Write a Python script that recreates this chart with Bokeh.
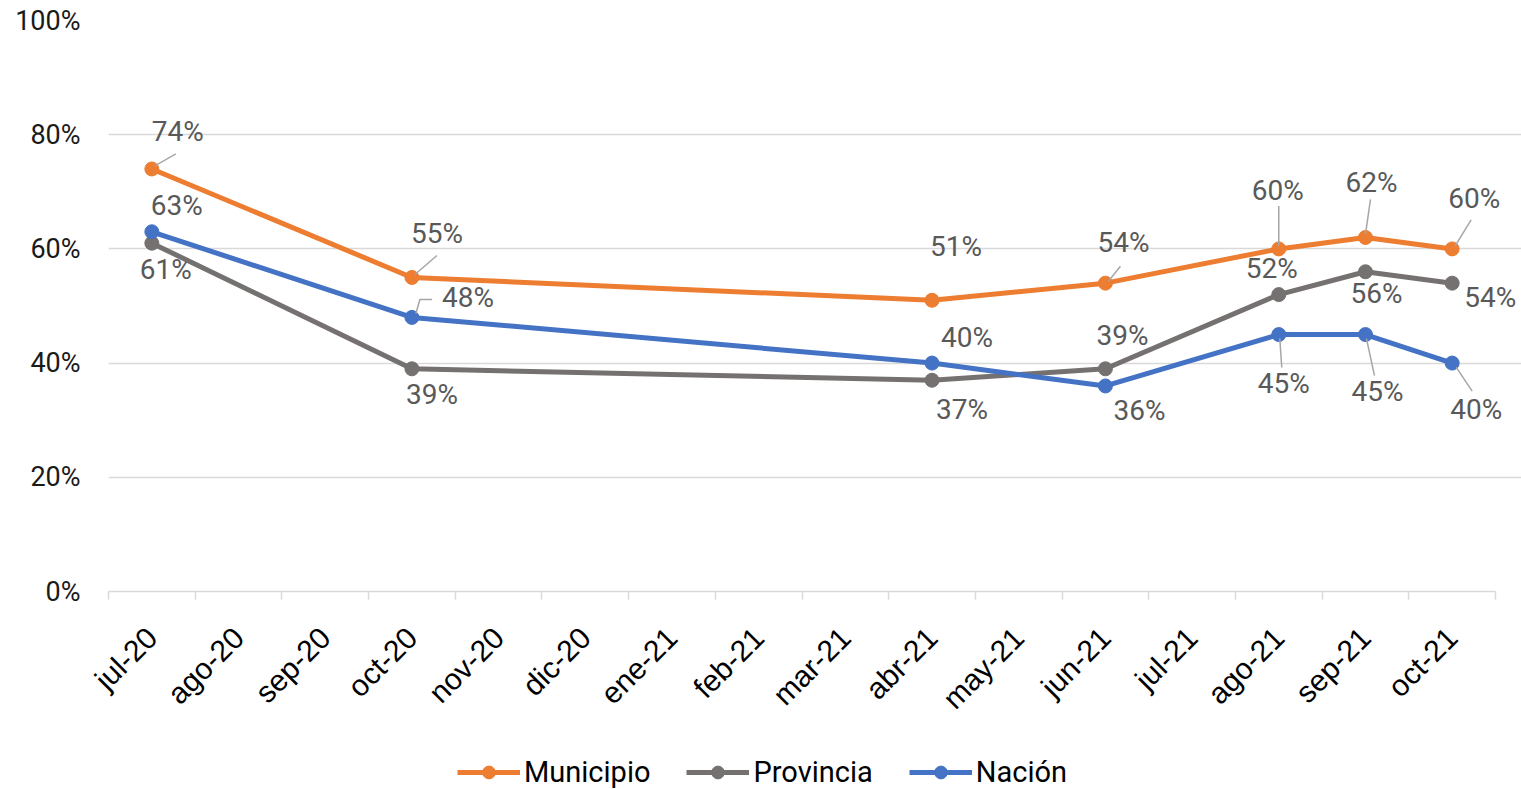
import math
from bokeh.plotting import figure
from bokeh.layouts import column
from bokeh.models import (ColumnDataSource, FixedTicker, Range1d, Legend, LegendItem,
                          NumeralTickFormatter)
from bokeh.core.properties import value
from bokeh.embed import file_html
from bokeh.resources import INLINE

# ---------------- data ----------------
months = ["jul-20", "ago-20", "sep-20", "oct-20", "nov-20", "dic-20", "ene-21", "feb-21",
          "mar-21", "abr-21", "may-21", "jun-21", "jul-21", "ago-21", "sep-21", "oct-21"]
obs_months = ["jul-20", "oct-20", "abr-21", "jun-21", "ago-21", "sep-21", "oct-21"]
municipio = [74, 55, 51, 54, 60, 62, 60]
provincia = [61, 39, 37, 39, 52, 56, 54]
nacion = [63, 48, 40, 36, 45, 45, 40]
y_ticks = [0, 20, 40, 60, 80, 100]
series_names = ["Municipio", "Provincia", "Nación"]

# ---------------- styles ----------------
colors = ["#ED7D31", "#767171", "#4472C4"]
LABEL_FONT = "Roboto"
LABEL_COLOR = "#595959"

# label offsets in screen pixels (dx right, dy down)
label_offsets = [
    [(26, -37), (25, -44), (24, -54), (18, -41), (-1, -58), (6, -55), (22, -50)],
    [(14, 26), (20, 26), (30, 29), (17, -33), (-7, -26), (11, 22), (38, 14)],
    [(25, -26), (56, -20), (35, -26), (34, 25), (5, 49), (12, 57), (24, 46)],
]
# leader lines: (series, point index, list of screen offsets)
leaders = [
    (0, 0, [(3, -3), (24, -15)]),
    (0, 1, [(3, -3), (25, -22)]),
    (0, 3, [(3, -2), (15, -17)]),
    (0, 4, [(0, -3), (0, -43)]),
    (0, 5, [(0, -3), (5, -38)]),
    (0, 6, [(3, -3), (19, -29)]),
    (2, 1, [(4, -4), (8, -18), (20, -18)]),
    (2, 4, [(1, 4), (3, 33)]),
    (2, 5, [(1, 4), (9, 41)]),
    (2, 6, [(4, 4), (20, 28)]),
]

W = 1521
LEFT, TOP = 108, 20
N = len(months)
PX_X = (1495 - LEFT) / N          # pixels per month
FRAME_W = W - LEFT                # frame runs to the page edge so labels are not clipped
X_END = FRAME_W / PX_X
FRAME_H = 591 - TOP
BOTTOM = 145
H1 = TOP + FRAME_H + BOTTOM
H2 = 789 - H1
PX_Y = FRAME_H / 100.0

p = figure(width=W, height=H1, output_backend="svg", toolbar_location=None,
           x_range=Range1d(0, X_END), y_range=Range1d(0, 100),
           min_border_left=LEFT, min_border_right=0, min_border_top=TOP,
           min_border_bottom=BOTTOM)
p.outline_line_color = None
p.background_fill_color = "white"
p.border_fill_color = "white"

xs = [months.index(m) + 0.5 for m in obs_months]
all_series = [municipio, provincia, nacion]

for name, vals, col in zip(series_names, all_series, colors):
    src = ColumnDataSource(dict(x=xs, y=vals))
    p.line("x", "y", source=src, line_color=col, line_width=5, line_join="round")
    p.scatter("x", "y", source=src, size=14, fill_color=col, line_color=col)

# leader lines
lx, ly = [], []
for si, pi_, offs in leaders:
    x0 = xs[pi_]
    y0 = all_series[si][pi_]
    lx.append([x0 + dx / PX_X for dx, dy in offs])
    ly.append([y0 - dy / PX_Y for dx, dy in offs])
p.multi_line(lx, ly, line_color="#A6A6A6", line_width=1.5)

# data labels
for si, vals in enumerate(all_series):
    offs = label_offsets[si]
    src = ColumnDataSource(dict(
        x=xs, y=vals, t=[f"{v}%" for v in vals],
        dx=[o[0] for o in offs], dy=[o[1] for o in offs]))
    p.text("x", "y", text="t", source=src, x_offset="dx", y_offset="dy",
           text_align="center", text_baseline="middle",
           text_font=value(LABEL_FONT), text_font_size="28px", text_color=LABEL_COLOR)

# axes
p.xgrid.visible = False
p.ygrid.ticker = FixedTicker(ticks=y_ticks)
p.ygrid.bounds = (0, N)
p.ygrid.grid_line_color = "#D9D9D9"
p.ygrid.grid_line_width = 1.5

p.yaxis.ticker = FixedTicker(ticks=y_ticks)
p.yaxis.formatter = NumeralTickFormatter(format="0")
p.yaxis.major_label_overrides = {t: f"{t}%" for t in y_ticks}
p.yaxis.axis_line_color = None
p.yaxis.major_tick_line_color = None
p.yaxis.minor_tick_line_color = None
p.yaxis.major_label_text_font = LABEL_FONT
p.yaxis.major_label_text_font_size = "27px"
p.yaxis.major_label_text_color = "#1A1A1A"
p.yaxis.major_label_standoff = 22

centers = [i + 0.5 for i in range(N)]
p.xaxis.bounds = (0, N)
p.xaxis.ticker = FixedTicker(ticks=centers, minor_ticks=list(range(N + 1)))
p.xaxis.major_label_overrides = {c: m for c, m in zip(centers, months)}
p.xaxis.axis_line_color = "#D9D9D9"
p.xaxis.axis_line_width = 1.5
p.xaxis.major_tick_line_color = None
p.xaxis.major_tick_out = 6
p.xaxis.minor_tick_line_color = "#D9D9D9"
p.xaxis.minor_tick_line_width = 1.5
p.xaxis.minor_tick_out = 8
p.xaxis.minor_tick_in = 0
p.xaxis.major_label_orientation = math.pi / 4
p.xaxis.major_label_text_font = "Liberation Sans"
p.xaxis.major_label_text_font_size = "30px"
p.xaxis.major_label_text_color = "#000000"
p.xaxis.major_label_standoff = 33

# ---------------- legend strip ----------------
pl = figure(width=W, height=H2, output_backend="svg", toolbar_location=None,
            x_range=Range1d(0, 1), y_range=Range1d(0, 1),
            min_border=0, min_border_left=0, min_border_right=0,
            min_border_top=0, min_border_bottom=0)
pl.outline_line_color = None
pl.axis.visible = False
pl.grid.visible = False
items = []
for name, col in zip(series_names, colors):
    off = ColumnDataSource(dict(x=[-5, -4], y=[-5, -5]))   # outside the view
    l = pl.line("x", "y", source=off, line_color=col, line_width=5)
    s = pl.scatter("x", "y", source=off, size=14, fill_color=col, line_color=col)
    items.append(LegendItem(label=name, renderers=[l, s]))
legend = Legend(items=items, orientation="horizontal", location=(349, 0),
                glyph_width=63, glyph_height=32, label_standoff=4, spacing=36,
                padding=0, margin=0, border_line_color=None,
                background_fill_alpha=0,
                label_text_font=LABEL_FONT, label_text_font_size="29px",
                label_text_color="#000000")
pl.add_layout(legend, "center")

layout = column(p, pl, spacing=0)
open("out.html", "w").write(file_html(layout, INLINE))
